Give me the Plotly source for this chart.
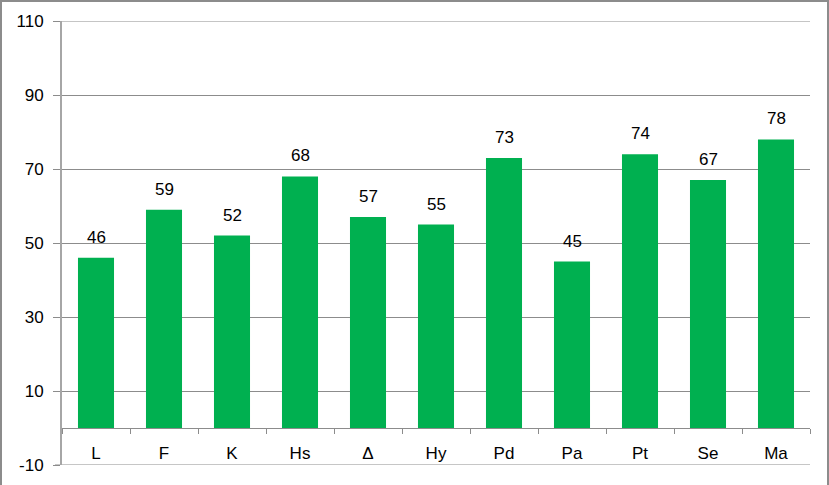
import plotly.graph_objects as go

categories = ["L", "F", "K", "Hs", "Δ", "Hy", "Pd", "Pa", "Pt", "Se", "Ma"]
values = [46, 59, 52, 68, 57, 55, 73, 45, 74, 67, 78]
y_ticks = [-10, 10, 30, 50, 70, 90, 110]

W, H = 829, 485
L, R, T, B = 62, 19, 21, 20
pw, ph = W - L - R, H - T - B
ymin, ymax = -10, 110

font_family = "Liberation Sans, Arial, sans-serif"
grid_color = "#8c8c8c"

fig = go.Figure()
fig.add_trace(go.Bar(
    x=categories, y=values,
    marker=dict(color="#00B050", line=dict(width=0)),
    width=0.53,
    hoverinfo="x+y",
))

for c, v in zip(categories, values):
    fig.add_annotation(x=c, y=v, text=str(v), showarrow=False,
                       yanchor="bottom", yshift=9,
                       font=dict(family=font_family, size=17, color="#000000"))

# gridlines at the range edges (Plotly omits them)
for yv in (y_ticks[0], y_ticks[-1]):
    fig.add_shape(type="line", xref="paper", yref="y",
                  x0=-7 / pw, x1=1, y0=yv, y1=yv,
                  line=dict(color=grid_color, width=1), layer="below")

# outer border
fig.add_shape(type="rect", xref="paper", yref="paper",
              x0=(1 - L) / pw, x1=(W - 1 - L) / pw,
              y0=(B - (H - 1)) / ph, y1=(H - B - 1) / ph,
              line=dict(color="#8c8c8c", width=2), layer="above")

fig.update_layout(
    width=W, height=H,
    margin=dict(l=L, r=R, t=T, b=B, autoexpand=False),
    paper_bgcolor="white", plot_bgcolor="white",
    showlegend=False,
    font=dict(family=font_family, size=17, color="#000000"),
    xaxis=dict(
        type="category",
        anchor="free", position=(0 - ymin) / (ymax - ymin),
        showline=True, linecolor=grid_color, linewidth=1,
        ticks="outside", tickson="boundaries", ticklen=5, tickcolor=grid_color,
        showgrid=False, zeroline=False,
        ticklabelstandoff=10,
        tickfont=dict(family=font_family, size=17, color="#000000"),
        automargin=False,
        fixedrange=True,
    ),
    yaxis=dict(
        range=[ymin, ymax],
        tickvals=y_ticks,
        ticktext=[str(t) for t in y_ticks],
        showgrid=True, gridcolor=grid_color, gridwidth=1,
        showline=True, linecolor="#a6a6a6", linewidth=2,
        ticks="outside", ticklen=7, tickcolor=grid_color,
        zeroline=False,
        ticklabelstandoff=6,
        tickfont=dict(family=font_family, size=17, color="#000000"),
        automargin=False,
        fixedrange=True,
    ),
)

fig.write_html(
    "out.html",
    config={"displayModeBar": False},
    post_script="document.body.style.margin='0';document.body.style.padding='0';document.body.style.overflow='hidden';",
)
